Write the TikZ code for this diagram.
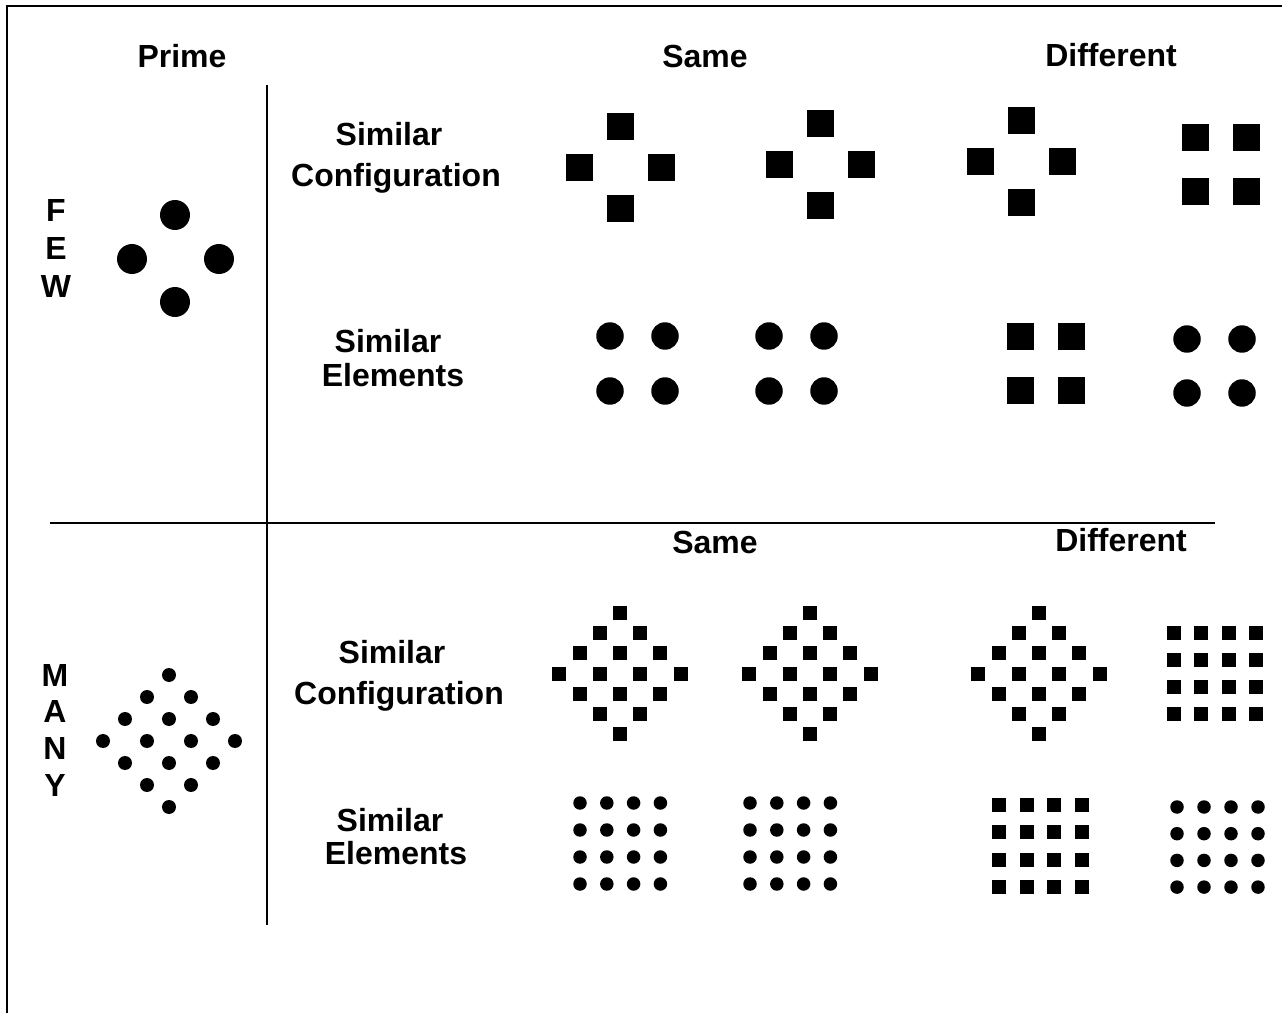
\documentclass[tikz,border=0pt]{standalone}
\usepackage{fontspec}
\setmainfont{Liberation Sans}
\usepackage{tikz}

\begin{document}
\begin{tikzpicture}[
  x=0.02cm, y=-0.02cm,
  lab/.style={font=\fontsize{18.2}{22}\selectfont\bfseries, anchor=base, inner sep=0pt},
  rule/.style={line width=0.04cm},
  divider/.style={line width=0.035cm}
]
\useasboundingbox (0,0) rectangle (1282,1013);
\fill[white] (0,0) rectangle (1282,1013);
% frame
\draw[rule] (7,1013) -- (7,6) -- (1282,6);
\draw[divider] (267,85) -- (267,925);
\draw[divider] (50,523) -- (1215,523);

% headings
\node[lab] (prime) at (182,68) {Prime};
\node[lab] (same1) at (705,68) {Same};
\node[lab] (diff1) at (1111,67) {Different};
\node[lab] (same2) at (715,554) {Same};
\node[lab] (diff2) at (1121,552) {Different};

% row labels
\node[lab] (sim1) at (389,146) {Similar};
\node[lab] (conf1) at (396,187) {Configuration};
\node[lab] (sim2) at (388,353) {Similar};
\node[lab] (elem2) at (393,387) {Elements};
\node[lab] (sim3) at (392,663) {Similar};
\node[lab] (conf3) at (399,704) {Configuration};
\node[lab] (sim4) at (390,831) {Similar};
\node[lab] (elem4) at (396,864) {Elements};

% side letters
\foreach \l [count=\i] in {F,E,W}
  \node[lab] (few\i) at (56,{222+38*(\i-1)}) {\l};
\foreach \l [count=\i] in {M,A,N,Y}
  \node[lab] (many\i) at (55,{686+36.7*(\i-1)}) {\l};

% few: prime
\foreach \x/\y in {175/215, 132/259, 219/259, 175/302}
  \fill (\x,\y) circle[radius=0.3cm];

% few: similar configuration
\foreach \cx/\cy in {620/168, 820/165, 1021/162}
  \foreach \dx/\dy in {0/-41, -41/0, 41/0, 0/41}
    \fill (\cx+\dx-13.5,\cy+\dy-13.5) rectangle ++(27,27);
\foreach \x in {1195,1246}
  \foreach \y in {138,192}
    \fill (\x-13.5,\y-13.5) rectangle ++(27,27);

% few: similar elements
\foreach \x in {610,665,769,824}
  \foreach \y in {336,391}
    \fill (\x,\y) circle[radius=0.275cm];
\foreach \x in {1020,1071}
  \foreach \y in {337,391}
    \fill (\x-13.5,\y-13.5) rectangle ++(27,27);
\foreach \x in {1187,1242}
  \foreach \y in {339,393}
    \fill (\x,\y) circle[radius=0.275cm];

% many: prime
\foreach \i in {0,...,3}
  \foreach \j in {0,...,3}
    \fill (169+22*\i-22*\j,675+22*\i+22*\j) circle[radius=0.14cm];

% many: similar configuration
\foreach \cx in {620,810,1039}
  \foreach \i in {0,...,3}
    \foreach \j in {0,...,3}
      \fill (\cx+20.2*\i-20.2*\j-7,613+20.2*\i+20.2*\j-7) rectangle ++(14,14);
\foreach \i in {0,...,3}
  \foreach \j in {0,...,3}
    \fill (1174+27.3*\i-7,633+27*\j-7) rectangle ++(14,14);

% many: similar elements
\foreach \cx in {580,750}
  \foreach \i in {0,...,3}
    \foreach \j in {0,...,3}
      \fill (\cx+26.8*\i,803+27*\j) circle[radius=0.135cm];
\foreach \i in {0,...,3}
  \foreach \j in {0,...,3}
    \fill (999+27.7*\i-7,805+27.3*\j-7) rectangle ++(14,14);
\foreach \i in {0,...,3}
  \foreach \j in {0,...,3}
    \fill (1177+27*\i,807+26.7*\j) circle[radius=0.135cm];
\end{tikzpicture}
\end{document}
